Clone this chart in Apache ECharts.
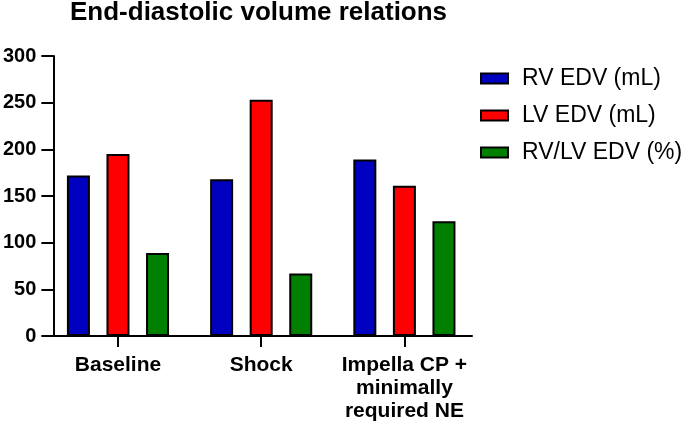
<!DOCTYPE html>
<html>
<head>
<meta charset="utf-8">
<script src="https://cdn.jsdelivr.net/npm/echarts@6/dist/echarts.min.js"></script>
<style>html,body{margin:0;padding:0;background:#fff;}#c{width:685px;height:425px;}</style>
</head>
<body>
<div id="c"></div>
<script>
const categories = ['Baseline', 'Shock', 'Impella CP +\nminimally\nrequired NE'];
const rvEdv = [172, 168, 189];
const lvEdv = [195, 253, 161];
const rvLvRatio = [89, 67, 123];
const seriesNames = ['RV EDV (mL)', 'LV EDV (mL)', 'RV/LV EDV (%)'];
const yTicks = { min: 0, max: 300, interval: 50 };

const FONT = "'Liberation Sans', Arial, sans-serif";
const chart = echarts.init(document.getElementById('c'), null, { renderer: 'canvas' });
const barStyle = (color) => ({ color: color, borderColor: '#000', borderWidth: 2 });

chart.setOption({
  animation: false,
  backgroundColor: '#fff',
  title: {
    text: 'End-diastolic volume relations',
    left: 65, top: -5,
    textStyle: { fontFamily: FONT, fontSize: 26, fontWeight: 'bold', color: '#000' }
  },
  legend: {
    orient: 'vertical',
    left: 475, top: 62,
    itemWidth: 27, itemHeight: 10, itemGap: 14,
    icon: 'rect',
    textStyle: { fontFamily: FONT, fontSize: 23, color: '#000', padding: [0, 0, 0, 9] },
    data: seriesNames
  },
  grid: [
    { left: 44, width: 432, top: 56, height: 280, containLabel: false },
    { left: 51, width: 421, top: 56, height: 280, containLabel: false }
  ],
  xAxis: [
    {
      type: 'category', gridIndex: 0, data: categories,
      axisLine: { show: false },
      axisTick: { show: true, alignWithLabel: true, length: 11, lineStyle: { color: '#000', width: 2 } },
      axisLabel: { interval: 0, fontFamily: FONT, fontSize: 21, fontWeight: 'bold', color: '#000', margin: 18, lineHeight: 23, align: 'center' }
    },
    {
      type: 'value', gridIndex: 1, min: 0, max: 1,
      axisLine: { show: true, lineStyle: { color: '#000', width: 2 } },
      axisTick: { show: false }, axisLabel: { show: false }, splitLine: { show: false }
    }
  ],
  yAxis: [
    {
      type: 'value', gridIndex: 0, min: yTicks.min, max: yTicks.max, interval: yTicks.interval,
      offset: -7,
      axisLine: { show: true, lineStyle: { color: '#000', width: 2 } },
      axisTick: { show: true, length: 12, lineStyle: { color: '#000', width: 2 } },
      axisLabel: { fontFamily: FONT, fontSize: 20, fontWeight: 'bold', color: '#000', margin: 17 },
      splitLine: { show: false }
    },
    {
      type: 'value', gridIndex: 1, min: 0, max: 1, show: false
    }
  ],
  series: [
    { name: seriesNames[0], type: 'bar', xAxisIndex: 0, yAxisIndex: 0, data: rvEdv, barWidth: 23, barGap: '72%', itemStyle: barStyle('#0000C0') },
    { name: seriesNames[1], type: 'bar', xAxisIndex: 0, yAxisIndex: 0, data: lvEdv, barWidth: 23, barGap: '72%', itemStyle: barStyle('#FF0000') },
    { name: seriesNames[2], type: 'bar', xAxisIndex: 0, yAxisIndex: 0, data: rvLvRatio, barWidth: 23, barGap: '72%', itemStyle: barStyle('#008000') }
  ]
});
</script>
</body>
</html>
